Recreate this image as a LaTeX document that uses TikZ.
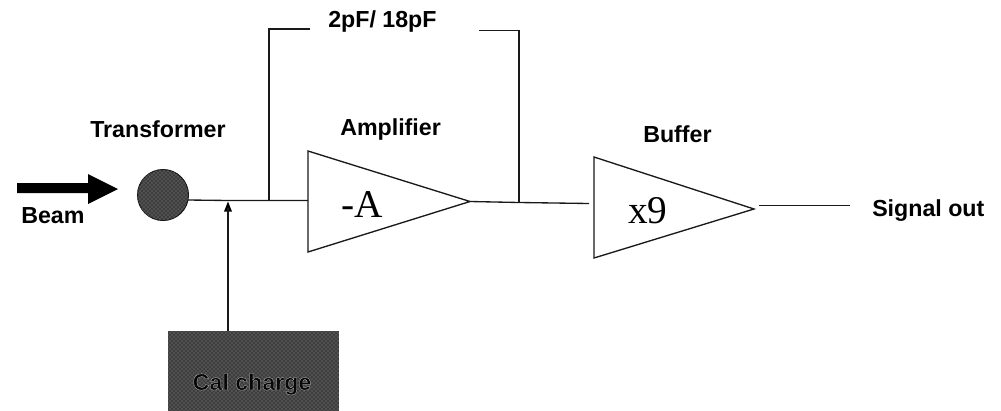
\documentclass[tikz,border=0pt]{standalone}
\usepackage{fontspec}
\setmainfont{Liberation Sans}
\newfontfamily\serifnum{Liberation Serif}
\newfontfamily\haloface[BoldFont={Liberation Sans Bold},BoldFeatures={FakeBold=1.0}]{Liberation Sans}
\usetikzlibrary{patterns}
\definecolor{inkdark}{gray}{0.1}
\definecolor{mottle}{gray}{0.24}
\definecolor{speck}{gray}{0.58}
\tikzset{
  wire/.style={draw=inkdark,line width=1pt},
  amp/.style={draw=inkdark,line width=1pt,line join=miter,fill=white},
  lab/.style={font=\bfseries\fontsize{17.4pt}{20pt}\selectfont,text=black,inner sep=0pt,anchor=base west},
  gain/.style={font=\serifnum\fontsize{29.5pt}{32pt}\selectfont,text=black,inner sep=0pt,anchor=base west},
  mottled/.style={fill=mottle,postaction={pattern=crosshatch dots,pattern color=speck}},
}
\begin{document}
\begin{tikzpicture}[x=0.75pt,y=-0.75pt]
\useasboundingbox (0,0) rectangle (1001,411);
% beam arrow
\coordinate (beamtip) at (118,189);
\fill[black] (17,183) -- (88,183) -- (88,174) -- (beamtip) -- (88,204) -- (88,193) -- (17,193) -- cycle;
\node[lab] (beam) at (21,223) {Beam};
% transformer
\node[circle,draw=inkdark,mottled,line width=0.75pt,minimum size=38.25pt,inner sep=0pt] (tr) at (163,195) {};
\node[lab] (trl) at (90,137) {Transformer};
% amplifier
\coordinate (a1) at (308,151);
\coordinate (a2) at (308,252);
\coordinate (a3) at (470,201.5);
\coordinate (ain) at (308,200.5);
\draw[amp] (a1) -- (a3) -- (a2) -- cycle;
\node[gain] (al) at (341,217) {-A};
\node[lab] (aml) at (340,135) {Amplifier};
% buffer
\coordinate (b1) at (594,157);
\coordinate (b2) at (594,258);
\coordinate (b3) at (754,209);
\draw[amp] (b1) -- (b3) -- (b2) -- cycle;
\node[gain] (bl) at (628,223) {x9};
\node[lab] (bfl) at (643,142) {Buffer};
% wires
\coordinate (trout) at (188,200);
\coordinate (j1) at (228,200.5);
\coordinate (j2) at (269,200.5);
\coordinate (j3) at (519,202.5);
\coordinate (bin) at (589,203.5);
\draw[wire] (trout) -- (j1) -- (j2) -- (ain);
\draw[wire] (a3) -- (j3) -- (bin);
% feedback
\coordinate (f1) at (269,29);
\coordinate (f2) at (310,29);
\coordinate (f3) at (479,30.5);
\coordinate (f4) at (519,30.5);
\draw[wire] (j2) -- (f1) -- (f2);
\draw[wire] (f3) -- (f4) -- (j3);
\node[lab] (cap) at (328,27) {2pF/ 18pF};
% cal charge
\node[rectangle,mottled,minimum width=128.25pt,minimum height=60pt,inner sep=0pt] (cal) at (253.5,371) {};
\node[inner sep=0pt,anchor=base] (call) at (252,390) {\haloface\bfseries\fontsize{17.4pt}{20pt}\selectfont\special{pdf:code 0.03 g 0.85 G}Cal charge};
\coordinate (calup) at (228,331);
\fill[black] (j1) ++(0,1) -- ++(-4,10) -- ++(8,0) -- cycle;
\draw[wire] (calup) -- (228,208);
% output
\coordinate (bout) at (759,205.5);
\coordinate (sig) at (850,205.5);
\draw[wire] (bout) -- (sig);
\node[lab] (sigl) at (872,216) {Signal out};
\end{tikzpicture}
\end{document}
